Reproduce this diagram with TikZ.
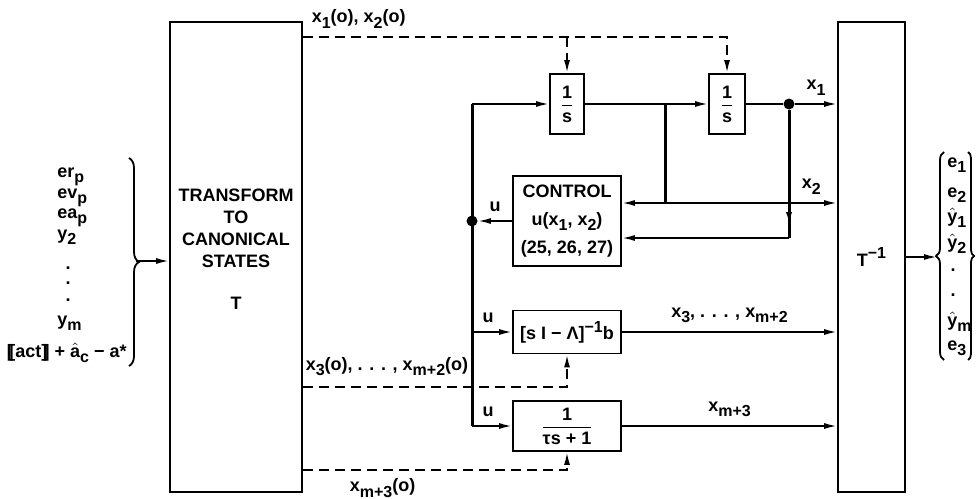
\documentclass[tikz,border=0pt]{standalone}
\usepackage{fontspec}
\setmainfont{Liberation Sans}
\usetikzlibrary{arrows.meta,decorations.pathreplacing,decorations.markings,calc}
\newcommand{\dnx}[1]{\raisebox{-0.55ex}{\footnotesize #1}}
\newcommand{\upx}[1]{\raisebox{0.75ex}{\footnotesize #1}}
\newcommand{\hatx}[1]{$\hat{\mbox{#1}}$}

\begin{document}
\begin{tikzpicture}[
  x=0.5pt, y=-0.5pt,
  font=\small\bfseries,
  blk/.style={draw, line width=0.9pt, inner sep=0pt, align=center},
  wire/.style={line width=0.9pt},
  bus/.style={line width=1.5pt},
  dashwire/.style={line width=0.9pt, dash pattern=on 5pt off 3pt},
  jdot/.style={circle, fill, inner sep=0pt, minimum size=5.5pt},
  lbl/.style={inner sep=1pt},
  >={Latex[length=6.5pt,width=3pt]}
]
\useasboundingbox (0,0) rectangle (977,498);

\node[blk, minimum width=66pt, minimum height=235pt] (T) at (236,257) {};
\node[align=center] (Tlbl) at (236,249) {TRANSFORM\\TO\\CANONICAL\\STATES\\[10pt]T};
\node[blk, minimum width=33.5pt, minimum height=235pt] (Tinv) at (871.5,257) {T\upx{−1}};

\node[blk, minimum width=17pt, minimum height=30pt] (int1) at (567,104) {$\displaystyle\frac{\mbox{1}}{\mbox{s}}$};
\node[blk, minimum width=18pt, minimum height=30pt] (int2) at (727,104) {$\displaystyle\frac{\mbox{1}}{\mbox{s}}$};
\node[blk, minimum width=54pt, minimum height=45pt] (ctrl) at (567,221) {CONTROL\\[3pt]u(x\dnx{1}, x\dnx{2})\\[3pt](25, 26, 27)};
\node[blk, minimum width=54pt, minimum height=21.5pt] (lam) at (567,332) {[s I − Λ]\upx{−1}b};
\node[blk, minimum width=54pt, minimum height=25pt] (lag) at (567,426) {$\displaystyle\frac{\mbox{1}}{\mbox{τs + 1}}$};

\node[jdot] (jx1) at (789,104) {};
\node[jdot] (ju) at (472,221) {};
\coordinate (bustop) at (472,104);
\coordinate (busmid) at (472,332);
\coordinate (busbot) at (472,426);
\coordinate (jx2) at (665,104);
\coordinate (jx2b) at (665,203);
\coordinate (x1fb) at (789,238);
\coordinate (d1) at (727,37);
\coordinate (d2) at (0,387);
\coordinate (d3) at (0,470);
\coordinate (brin) at (136,261);
\coordinate (brout) at (937,257);

% inputs
\node[lbl, anchor=base west] (er) at (55,177) {er\dnx{p}};
\node[lbl, anchor=base west] (ev) at (55,198) {ev\dnx{p}};
\node[lbl, anchor=base west] (ea) at (55,218) {ea\dnx{p}};
\node[lbl, anchor=base west] (ytwo) at (55,239) {y\dnx{2}};
\node[lbl] (dA) at (68,268) {.};
\node[lbl] (dB) at (68,283) {.};
\node[lbl] (dC) at (68,300) {.};
\node[lbl, anchor=base west] (ym) at (55,325) {y\dnx{m}};
\node[lbl, anchor=base east, inner sep=0pt] (act) at (127,357) {[\kern-0.2em[act]\kern-0.2em] + \hatx{a}\dnx{c} − a*};
\draw[wire, decorate, decoration={brace, amplitude=5pt}] (129,158) -- (129,366);

% outputs
\node[lbl, anchor=base west] (eone) at (945,167) {e\dnx{1}};
\node[lbl, anchor=base west] (etwo) at (945,197) {e\dnx{2}};
\node[lbl, anchor=base west] (yhone) at (945,222) {\hatx{y}\dnx{1}};
\node[lbl, anchor=base west] (yhtwo) at (945,248) {\hatx{y}\dnx{2}};
\node[lbl] (dD) at (953,270) {.};
\node[lbl] (dE) at (953,295) {.};
\node[lbl, anchor=base west] (yhm) at (945,326) {\hatx{y}\dnx{m}};
\node[lbl, anchor=base west] (ethree) at (945,350) {e\dnx{3}};
\draw[wire, decorate, decoration={brace, amplitude=4pt}] (944,360) -- (944,152);
\draw[wire, decorate, decoration={brace, amplitude=3pt}] (968,152) -- (968,360);

\draw[wire, ->] (brin) -- (T.west |- brin);
\draw[wire, ->] (Tinv) -- (brout);

% initial conditions
\draw[dashwire, ->] (T.east |- d1) -| (int2.north) node[pos=0, anchor=south west, xshift=3pt, yshift=3pt, lbl] (lx0) {x\dnx{1}(o), x\dnx{2}(o)};
\draw[dashwire, ->] (int1.north |- d1) -- (int1.north);
\draw[dashwire, ->] (T.east |- d2) -| (lam.south) node[pos=0, anchor=south west, xshift=0pt, yshift=4pt, lbl] (lx3) {x\dnx{3}(o), . . . , x\dnx{m+2}(o)};
\draw[dashwire, ->] (T.east |- d3) -| (lag.south) node[pos=0, anchor=north west, xshift=22pt, yshift=-3pt, lbl] (lxm) {x\dnx{m+3}(o)};

% state loop
\draw[bus] (bustop) -- (busbot);
\draw[wire, ->] (bustop) -- (int1);
\draw[wire, ->] (int1) -- (int2);
\draw[wire] (int2) -- (jx1);
\draw[wire, ->] (jx1) -- (Tinv.west |- jx1) node[midway, above=3pt, lbl] (lx1) {x\dnx{1}};
\draw[bus] (jx2) -- (jx2b);
\draw[wire, ->] (jx2b) -- (Tinv.west |- jx2b) node[pos=0.85, above=3pt, lbl] (lx2) {x\dnx{2}};
\draw[wire, ->] (jx2b) -- (ctrl.east |- jx2b);
\draw[bus, postaction={decorate}, decoration={markings, mark=at position 0.9 with {\arrow{Latex[length=6.5pt,width=3pt]}}}] (jx1) -- (x1fb);
\draw[wire, ->] (x1fb) -- (ctrl.east |- x1fb);
\draw[wire, ->] (ctrl) -- (ju) node[midway, above=3pt, lbl] (lu1) {u};
\draw[wire, ->] (busmid) -- (lam) node[pos=0.4, above=3pt, lbl] (lu2) {u};
\draw[wire, ->] (busbot) -- (lag) node[pos=0.4, above=3pt, lbl] (lu3) {u};
\draw[wire, ->] (lam) -- (Tinv.west |- lam) node[midway, above=3pt, lbl] (lxs) {x\dnx{3}, . . . , x\dnx{m+2}};
\draw[wire, ->] (lag) -- (Tinv.west |- lag) node[midway, above=3pt, lbl] (lxl) {x\dnx{m+3}};

\end{tikzpicture}
\end{document}
